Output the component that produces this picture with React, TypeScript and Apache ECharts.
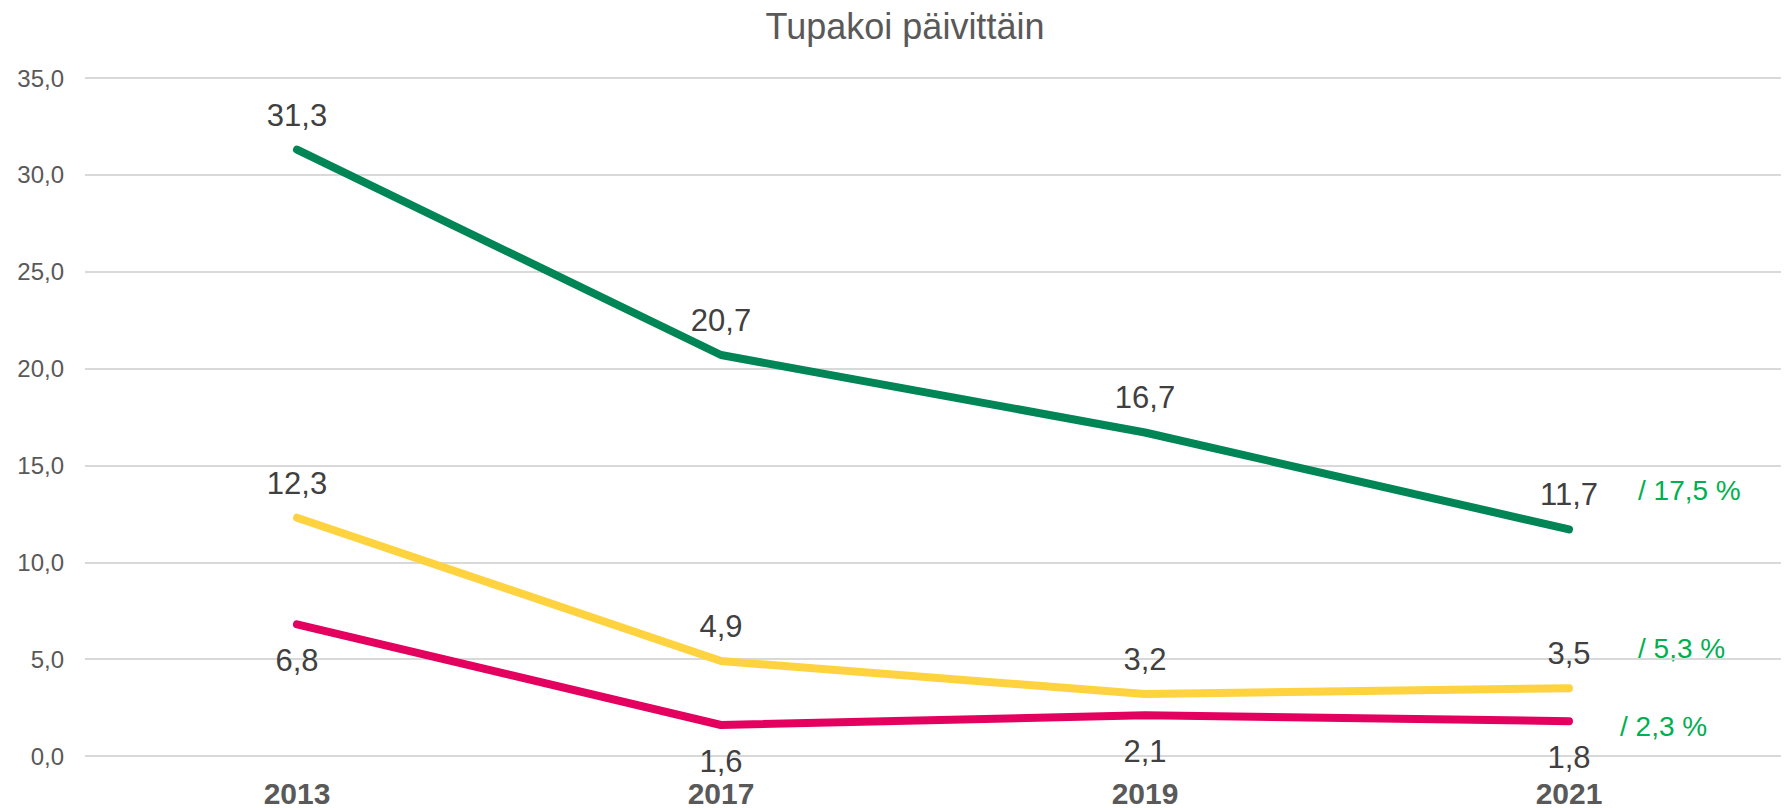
import React, { useEffect, useRef } from "react";
import * as echarts from "echarts";

const title = "Tupakoi päivittäin";
const years = ["2013", "2017", "2019", "2021"];
const seriesGreen = [31.3, 20.7, 16.7, 11.7];
const seriesYellow = [12.3, 4.9, 3.2, 3.5];
const seriesPink = [6.8, 1.6, 2.1, 1.8];
const notes = ["/ 17,5 %", "/ 5,3 %", "/ 2,3 %"];
const yMin = 0;
const yMax = 35;
const yStep = 5;

const FONT = "'Liberation Sans', Arial, sans-serif";
const fmt = (v: number) => v.toFixed(1).replace(".", ",");

export default function App() {
  const ref = useRef<HTMLDivElement>(null);
  useEffect(() => {
    if (!ref.current) return;
    const chart = echarts.init(ref.current, null, { renderer: "svg" });
    const mk = (name: string, data: number[], color: string, pos: "top" | "bottom", dist: number) => ({
      name,
      type: "line",
      data,
      symbol: "circle",
      symbolSize: 2,
      showSymbol: true,
      lineStyle: { color, width: 8, cap: "round", join: "round" },
      itemStyle: { color },
      label: {
        show: true,
        position: pos,
        distance: dist,
        formatter: (p: any) => fmt(p.value),
        color: "#404040",
        opacity: 1,
        fontSize: 31,
        fontFamily: FONT,
      },
      z: 3,
    });
    chart.setOption({
      animation: false,
      backgroundColor: "#ffffff",
      title: {
        text: title,
        left: 900,
        textAlign: "center",
        top: 3,
        textStyle: { fontSize: 36, fontWeight: "normal", color: "#595959", fontFamily: FONT },
      },
      grid: { left: 85, right: 3, top: 78, bottom: 51, containLabel: false },
      xAxis: {
        type: "category",
        data: years,
        boundaryGap: true,
        axisLine: { show: false },
        axisTick: { show: false },
        axisLabel: {
          margin: 22,
          fontSize: 30,
          fontWeight: "bold",
          color: "#595959",
          fontFamily: FONT,
        },
      },
      yAxis: {
        type: "value",
        min: yMin,
        max: yMax,
        interval: yStep,
        axisLine: { show: false },
        axisTick: { show: false },
        splitLine: { lineStyle: { color: "#D9D9D9", width: 2 } },
        axisLabel: {
          margin: 21,
          fontSize: 24,
          color: "#595959",
          fontFamily: FONT,
          formatter: (v: number) => fmt(v),
        },
      },
      series: [
        mk("green", seriesGreen, "#008557", "top", 18),
        mk("yellow", seriesYellow, "#FFD23F", "top", 18),
        mk("pink", seriesPink, "#E3005F", "bottom", 20),
      ],
      graphic: [
        { type: "text", left: 1638, top: 492 - 16, style: { text: notes[0], fill: "#00B050", fontSize: 28, fontFamily: FONT } },
        { type: "text", left: 1638, top: 650 - 16, style: { text: notes[1], fill: "#00B050", fontSize: 28, fontFamily: FONT } },
        { type: "text", left: 1620, top: 728 - 16, style: { text: notes[2], fill: "#00B050", fontSize: 28, fontFamily: FONT } },
      ],
    });
    return () => chart.dispose();
  }, []);
  return (
    <div style={{ position: "absolute", left: 0, top: 0, width: 1784, height: 808 }}>
      <div ref={ref} style={{ width: 1784, height: 808 }} />
    </div>
  );
}
